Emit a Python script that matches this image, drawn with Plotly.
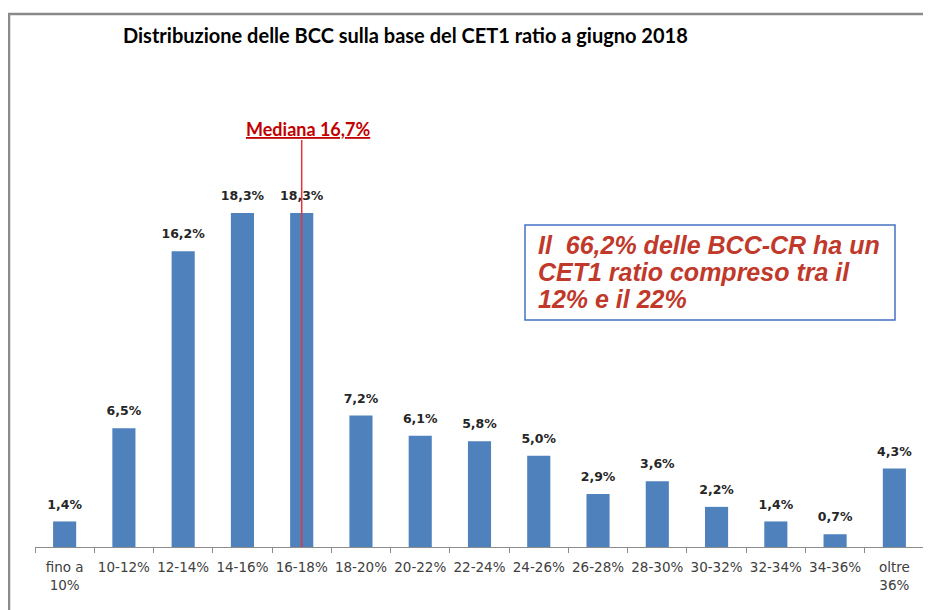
import plotly.graph_objects as go

categories = ["fino a<br>10%", "10-12%", "12-14%", "14-16%", "16-18%", "18-20%", "20-22%",
              "22-24%", "24-26%", "26-28%", "28-30%", "30-32%", "32-34%", "34-36%", "oltre<br>36%"]
values = [1.4, 6.5, 16.2, 18.3, 18.3, 7.2, 6.1, 5.8, 5.0, 2.9, 3.6, 2.2, 1.4, 0.7, 4.3]
labels = [f"{v:.1f}".replace(".", ",") + "%" for v in values]
median_label = "Mediana 16,7%"
median_category_index = 4
box_lines = ["Il  66,2% delle BCC-CR ha un", "CET1 ratio compreso tra il", "12% e il 22%"]
title = "Distribuzione delle BCC sulla base del CET1 ratio a giugno 2018"

# page offset of the plot div (default body margin)
OFF = 8
W, H = 931 - OFF, 610 - OFF
AXIS_Y, PLOT_TOP, PLOT_L, PLOT_R = 547, 60, 35, 924   # page pixel positions
L, R = PLOT_L - OFF, (931 - PLOT_R)
T = PLOT_TOP - OFF
B = H - (AXIS_Y - OFF)
YMAX = (AXIS_Y - PLOT_TOP) / 18.25
pw, ph = W - L - R, H - T - B

def px(x):
    return (x - OFF - L) / pw

def py(y):
    return (H - B - (y - OFF)) / ph

fig = go.Figure()
fig.add_trace(go.Bar(
    x=categories, y=values,
    marker=dict(color="#4F81BD", line=dict(width=0)), width=0.39,
    hoverinfo="skip",
))
fig.add_trace(go.Scatter(
    x=categories, y=values, mode="markers+text", text=labels,
    texttemplate="<b>%{text}</b>", textposition="top center",
    marker=dict(size=14, opacity=0), cliponaxis=False,
    textfont=dict(family="DejaVu Sans", size=12.5, color="#262626"),
    hoverinfo="skip",
))

fig.update_layout(
    width=W, height=H, margin=dict(l=L, r=R, t=T, b=B, autoexpand=False),
    paper_bgcolor="white", plot_bgcolor="white", showlegend=False,
    xaxis=dict(type="category", range=[-0.5, len(categories) - 0.5],
               showline=True, linecolor="#8c8c8c", linewidth=1,
               ticks="outside", tickson="boundaries", ticklen=5, tickcolor="#8c8c8c",
               tickangle=0, ticklabelstandoff=8,
               tickfont=dict(family="DejaVu Sans", size=13.5, color="#404040"),
               showgrid=False, automargin=False),
    yaxis=dict(range=[0, YMAX], visible=False, showgrid=False, automargin=False),
)

# median line
fig.add_shape(type="line", xref="x", yref="y", x0=median_category_index, x1=median_category_index,
              y0=0, y1=(AXIS_Y - 140) / 18.25, line=dict(color="#E5343C", width=1.5))
fig.add_annotation(xref="paper", yref="paper", x=px(308), y=py(129), xanchor="center", yanchor="middle",
                   showarrow=False, text="<u><b>" + median_label + "</b></u>",
                   font=dict(family="Lato", size=18, color="#C00000"))

# text box
fig.add_shape(type="rect", xref="paper", yref="paper", x0=px(525), x1=px(895), y0=py(320), y1=py(225),
              line=dict(color="#4472C4", width=1.5), fillcolor="white")
for i, line in enumerate(box_lines):
    fig.add_annotation(xref="paper", yref="paper", x=px(536), y=py(245 + 27 * i),
                       xanchor="left", yanchor="middle",
                       showarrow=False, text="<b><i>" + line + "</i></b>",
                       font=dict(family="Liberation Sans", size=25, color="#C0392B"))

# title
fig.add_annotation(xref="paper", yref="paper", x=px(405), y=py(35), xanchor="center", yanchor="middle",
                   showarrow=False, text="<b>" + title + "</b>",
                   font=dict(family="Lato", size=20, color="black"))

# outer frame (top and left)
fig.add_shape(type="line", xref="paper", yref="paper", x0=px(7), x1=px(935), y0=py(14), y1=py(14),
              line=dict(color="#8a8a8a", width=2.5))
fig.add_shape(type="line", xref="paper", yref="paper", x0=px(9), x1=px(9), y0=py(14), y1=py(615),
              line=dict(color="#8a8a8a", width=2.5))

fig.write_html("out.html")
